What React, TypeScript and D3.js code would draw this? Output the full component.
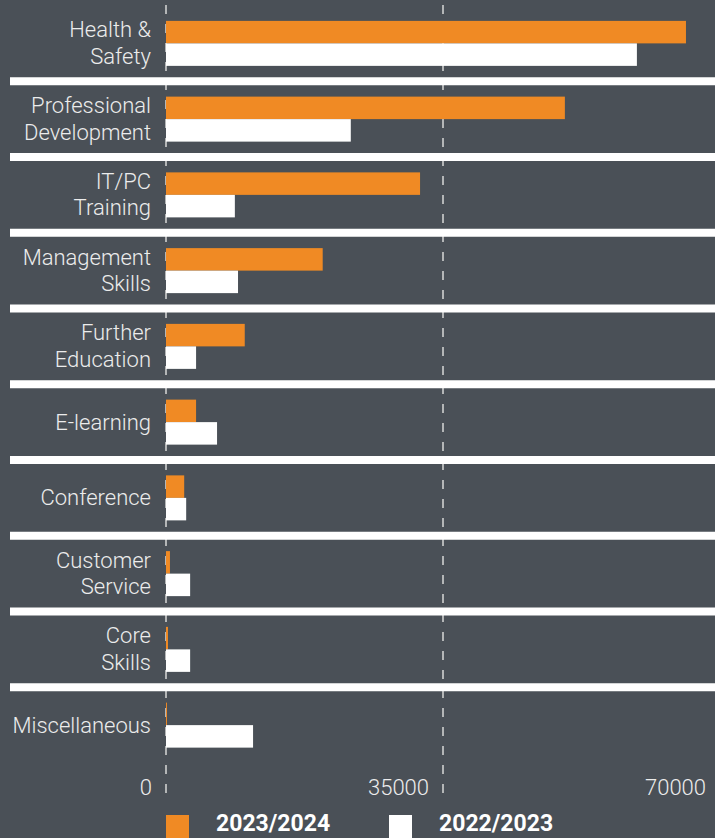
import React, { useRef, useEffect } from "react";
import * as d3 from "d3";

const categories = [
  ["Health &", "Safety"],
  ["Professional", "Development"],
  ["IT/PC", "Training"],
  ["Management", "Skills"],
  ["Further", "Education"],
  ["E-learning"],
  ["Conference"],
  ["Customer", "Service"],
  ["Core", "Skills"],
  ["Miscellaneous"],
];
const series2324 = [65700, 50400, 32100, 19800, 9950, 3800, 2300, 500, 250, 120];
const series2223 = [59500, 23350, 8700, 9100, 3800, 6450, 2550, 3050, 3050, 11000];
const tickValues = [0, 35000, 70000];
const seriesNames = ["2023/2024", "2022/2023"];

const W = 715;
const H = 838;
const BG = "#4a5057";
const ORANGE = "#f08a24";
const TEXT = "#ececec";

function App() {
  const svgRef = useRef<SVGSVGElement>(null);

  useEffect(() => {
    const svg = d3.select(svgRef.current);
    svg.selectAll("*").remove();

    const x = d3.scaleLinear().domain([0, 70000]).range([166, 720]);
    const y = d3
      .scaleBand<number>()
      .domain(categories.map((_, i) => i))
      .range([5.5, 5.5 + 75.75 * categories.length]);
    const step = y.step();
    const barH = 22.5;

    svg.append("rect").attr("width", W).attr("height", H).attr("fill", BG);

    // dashed gridlines
    svg
      .append("g")
      .selectAll("line")
      .data(tickValues)
      .join("line")
      .attr("x1", (d) => x(d))
      .attr("x2", (d) => x(d))
      .attr("y1", 5)
      .attr("y2", 800)
      .attr("stroke", "#d8d8d8")
      .attr("stroke-width", 1.5)
      .attr("stroke-dasharray", "9,10");

    // separators
    svg
      .append("g")
      .selectAll("rect")
      .data(categories.slice(0, -1))
      .join("rect")
      .attr("x", 10)
      .attr("width", W - 10)
      .attr("y", (_, i) => (y(i) as number) + step - 4)
      .attr("height", 8)
      .attr("fill", "#fff");

    const centre = (i: number) => (y(i) as number) + step / 2;

    svg
      .append("g")
      .selectAll("rect")
      .data(series2324)
      .join("rect")
      .attr("x", x(0))
      .attr("y", (_, i) => centre(i) - barH)
      .attr("width", (d) => x(d) - x(0))
      .attr("height", barH)
      .attr("fill", ORANGE);

    svg
      .append("g")
      .selectAll("rect")
      .data(series2223)
      .join("rect")
      .attr("x", x(0))
      .attr("y", (_, i) => centre(i))
      .attr("width", (d) => x(d) - x(0))
      .attr("height", barH)
      .attr("fill", "#fff");

    // category labels
    const labels = svg
      .append("g")
      .attr("font-family", "Roboto, sans-serif")
      .attr("font-weight", 300)
      .attr("font-size", 22)
      .attr("fill", TEXT)
      .attr("text-anchor", "end");
    categories.forEach((lines, i) => {
      const c = centre(i);
      const t = labels.append("text").attr("x", 151);
      if (lines.length === 1) {
        t.append("tspan").attr("x", 151).attr("y", c + 7.5).text(lines[0]);
      } else {
        t.append("tspan").attr("x", 151).attr("y", c - 6).text(lines[0]);
        t.append("tspan").attr("x", 151).attr("y", c + 20.5).text(lines[1]);
      }
    });

    // tick labels
    svg
      .append("g")
      .attr("font-family", "Roboto, sans-serif")
      .attr("font-weight", 300)
      .attr("font-size", 22)
      .attr("fill", TEXT)
      .attr("text-anchor", "end")
      .selectAll("text")
      .data(tickValues)
      .join("text")
      .attr("x", (d) => x(d) - 14)
      .attr("y", 795)
      .text((d) => String(d));

    // legend
    const legend = svg.append("g");
    const legendX = [166, 389];
    const colours = [ORANGE, "#fff"];
    seriesNames.forEach((name, i) => {
      legend
        .append("rect")
        .attr("x", legendX[i])
        .attr("y", 815)
        .attr("width", 23)
        .attr("height", 30)
        .attr("fill", colours[i]);
      legend
        .append("text")
        .attr("x", legendX[i] + 50)
        .attr("y", 831)
        .attr("font-family", "Roboto, sans-serif")
        .attr("font-weight", 700)
        .attr("font-size", 23)
        .attr("fill", "#fff")
        .text(name);
    });
  }, []);

  return (
    <>
      <style>{"body{margin:0;background:" + BG + "}"}</style>
      <svg ref={svgRef} width={W} height={H} style={{ display: "block" }} />
    </>
  );
}

export default App;
